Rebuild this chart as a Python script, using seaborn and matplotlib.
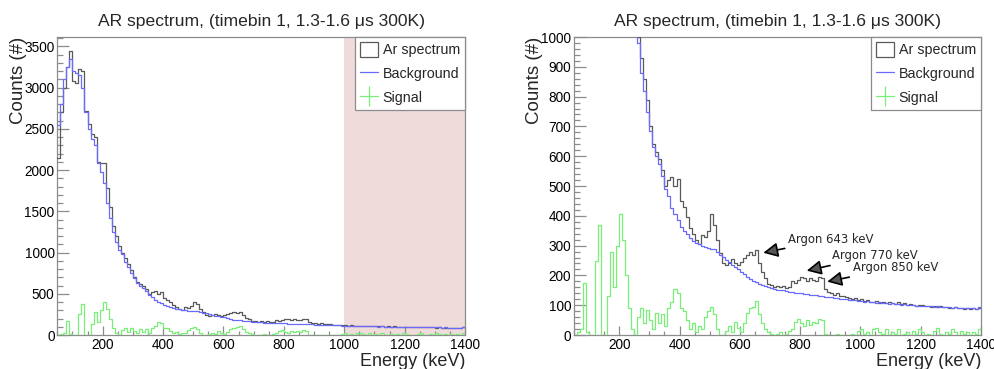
import numpy as np
import pandas as pd
import matplotlib
matplotlib.use("Agg")
import matplotlib.pyplot as plt
import seaborn as sns
from matplotlib.lines import Line2D
from matplotlib.patches import Patch
from matplotlib.ticker import MultipleLocator

# ---------------- data (10 keV bins, 50-1400 keV) ----------------
bin_width = 10
e_min, e_max = 50, 1400

ar_counts = [
    2150, 2700, 3000, 3250, 3440, 3080, 3050, 3230, 3200, 2720,
    2560, 2440, 2400, 2100, 2090, 2080, 1780, 1550, 1320, 1200,
    1080, 1000, 930, 860, 790, 700, 640, 615, 590, 555,
    500, 520, 530, 500, 525, 450, 430, 395, 360, 340,
    320, 305, 335, 330, 350, 405, 370, 320, 275, 240,
    235, 240, 255, 240, 235, 245, 258, 270, 280, 268,
    285, 240, 210, 190, 170, 168, 160, 165, 160, 165,
    158, 162, 180, 175, 185, 195, 190, 180, 192, 185,
    180, 195, 190, 155, 145, 140, 135, 140, 130, 132,
    128, 125, 122, 124, 118, 120, 115, 118, 112, 110,
    115, 108, 112, 106, 110, 108, 104, 110, 103, 106,
    100, 104, 101, 98, 102, 100, 96, 99, 95, 98,
    94, 96, 93, 95, 92, 90, 93, 89, 91, 88,
    90, 87, 89, 86, 92,
]

bg_counts = [
    2550, 2800, 3100, 3250, 3350, 3200, 3180, 3150, 3000, 2700,
    2500, 2380, 2300, 2080, 1980, 1840, 1600, 1420, 1250, 1130,
    1030, 980, 880, 820, 750, 685, 630, 600, 575, 535,
    490, 465, 425, 405, 385, 362, 350, 338, 325, 315,
    310, 305, 300, 296, 292, 290, 288, 280, 270, 262,
    252, 244, 235, 228, 220, 213, 205, 195, 188, 182,
    178, 172, 168, 165, 160, 157, 155, 152, 150, 150,
    148, 146, 145, 142, 140, 141, 138, 136, 135, 134,
    133, 131, 130, 129, 128, 127, 125, 124, 122, 121,
    120, 118, 117, 116, 115, 114, 112, 113, 110, 111,
    108, 110, 106, 107, 105, 106, 103, 104, 102, 103,
    101, 100, 101, 99, 98, 99, 97, 96, 97, 95,
    96, 94, 95, 93, 94, 92, 93, 91, 92, 90,
    91, 89, 90, 88, 93,
]

signal_counts = [
    0, 10, 20, 175, 10, 0, 0, 250, 370, 0,
    0, 130, 280, 160, 300, 405, 320, 200, 90, 20,
    0, 60, 90, 40, 85, 50, 20, 75, 40, 70,
    30, 90, 110, 155, 140, 90, 80, 50, 20, 40,
    10, 30, 20, 60, 80, 95, 70, 20, 0, 0,
    15, 30, 10, 45, 25, 10, 40, 75, 90, 95,
    115, 70, 40, 20, 10, 5, 0, 5, 10, 0,
    5, 15, 20, 45, 55, 40, 30, 50, 35, 45,
    40, 55, 50, 5, 0, 0, 0, 5, 0, 0,
    0, 0, 5, 0, 15, 20, 5, 10, 0, 20,
    25, 10, 5, 20, 0, 10, 5, 20, 0, 5,
    10, 0, 15, 5, 20, 10, 0, 5, 0, 15,
    25, 5, 0, 10, 5, 20, 10, 0, 15, 5,
    10, 0, 10, 5, 20,
]

annotations = [
    ("Argon 643 keV", (678, 276), (760, 322)),
    ("Argon 770 keV", (822, 216), (905, 266)),
    ("Argon 850 keV", (890, 179), (974, 226)),
]

title = "AR spectrum, (timebin 1, 1.3-1.6 \u03bcs 300K)"

# ---------------- styling ----------------
sns.set_style("ticks")
plt.rcParams["font.family"] = ["Liberation Sans", "DejaVu Sans"]

centers = np.arange(e_min, e_max, bin_width) + bin_width / 2
df = pd.DataFrame({"E": centers, "ar": ar_counts, "bg": bg_counts,
                   "sig": signal_counts})

C_AR = "#5a5a5a"
C_BG = "#6a6aff"
C_SIG = "#78f078"
C_AX = "#8c8c8c"

fig = plt.figure(figsize=(9.95, 3.69), dpi=100)
ax_l = fig.add_axes([0.0576, 0.0921, 0.4098, 0.8076])
ax_r = fig.add_axes([0.5769, 0.0921, 0.4090, 0.8076])


def draw(ax, ymax, ymajor, yminor, ylab_x):
    for col_name, col in (("ar", C_AR), ("bg", C_BG), ("sig", C_SIG)):
        sns.histplot(data=df, x="E", weights=col_name, binwidth=bin_width,
                     binrange=(e_min, e_max),
                     element="step", fill=False, color=col, linewidth=0.9,
                     ax=ax, zorder=3)
    ax.set_xlim(e_min, e_max)
    ax.set_ylim(0, ymax)
    ax.xaxis.set_major_locator(MultipleLocator(200))
    ax.xaxis.set_minor_locator(MultipleLocator(50))
    ax.yaxis.set_major_locator(MultipleLocator(ymajor))
    ax.yaxis.set_minor_locator(MultipleLocator(yminor))
    ax.tick_params(axis="both", which="both", direction="in", colors=C_AX,
                   labelcolor="black", labelsize=9.8, width=0.9)
    ax.tick_params(axis="y", which="major", length=8.6, pad=2)
    ax.tick_params(axis="y", which="minor", length=4.3)
    ax.tick_params(axis="x", which="major", length=6.5, pad=2)
    ax.tick_params(axis="x", which="minor", length=3.2)
    for s in ax.spines.values():
        s.set_color(C_AX)
        s.set_linewidth(0.9)
        s.set_visible(True)
    ax.set_xlabel("Energy (keV)", fontsize=13, loc="right", va="top")
    ax.set_ylabel("Counts (#)", fontsize=13.5, loc="top")
    ax.xaxis.set_label_coords(1.0, -0.062)
    ax.yaxis.set_label_coords(ylab_x, 1.0)
    ax.set_title(title, fontsize=12.6, pad=8)

    handles = [
        Patch(facecolor="white", edgecolor=C_AR, linewidth=0.9),
        Line2D([], [], color=C_BG, linewidth=0.9),
        Line2D([], [], color=C_SIG, linewidth=0.9, marker="|",
               markersize=14, markeredgewidth=0.9),
    ]
    leg = ax.legend(handles, ["Ar spectrum", "Background", "Signal"],
                    loc="upper right", borderaxespad=0, fontsize=10.3,
                    frameon=True, fancybox=False, edgecolor=C_AX,
                    handlelength=1.25, handleheight=1.2, handletextpad=0.35,
                    labelspacing=0.62, borderpad=0.35, framealpha=1)
    leg.get_frame().set_linewidth(0.9)
    leg.set_zorder(10)


draw(ax_l, 3612, 500, 100, -0.074)
ax_l.axvspan(1000, 1400, color="#f0dbdb", zorder=0, linewidth=0)

draw(ax_r, 1000, 100, 20, -0.076)
for text, tip, tail in annotations:
    ax_r.annotate(text, xy=tip, xytext=tail, fontsize=8.4,
                  family="DejaVu Sans", ha="left", va="center",
                  arrowprops=dict(arrowstyle="-|>", mutation_scale=22,
                                  fc="#555555", ec="black", lw=1.2,
                                  shrinkA=0, shrinkB=0),
                  zorder=8)

fig.savefig("out.png", dpi=100)
